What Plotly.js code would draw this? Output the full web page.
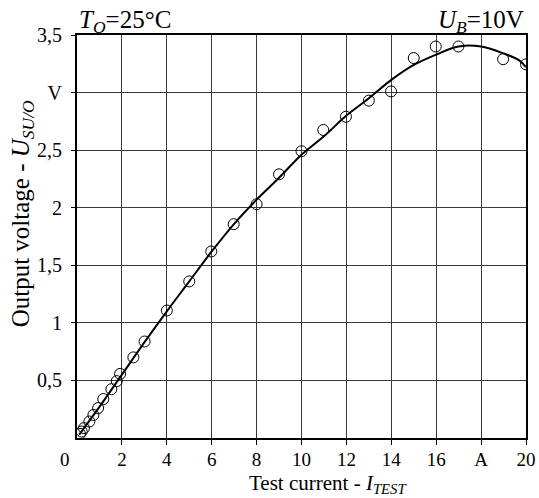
<!DOCTYPE html>
<html><head><meta charset="utf-8">
<script src="https://cdn.plot.ly/plotly-3.0.1.min.js"></script>
<style>html,body{margin:0;padding:0;background:#fff}#chart{width:539px;height:498px}</style>
</head><body><div id="chart"></div>
<script>
// measured points (circles)
var measX = [0.13,0.21,0.31,0.55,0.73,0.94,1.17,1.53,1.77,1.92,2.51,3.01,4.0,5.0,5.98,6.98,8.0,9.0,10.0,10.97,11.98,13.0,13.99,15.0,15.98,16.99,18.98,20.0];
var measY = [0.036,0.056,0.086,0.143,0.20,0.26,0.338,0.424,0.494,0.557,0.70,0.838,1.107,1.36,1.62,1.857,2.03,2.29,2.49,2.675,2.79,2.93,3.01,3.30,3.40,3.40,3.29,3.245];
// fitted curve
var curveX = [0.1,1,2,3,4,5,6,7,8,9,10,11,12,13,14,15,16,17,18,19,19.7,20];
var curveY = [0.03,0.27,0.55,0.83,1.1,1.36,1.62,1.86,2.07,2.26,2.46,2.62,2.80,2.95,3.11,3.24,3.33,3.40,3.40,3.34,3.28,3.22];
// tick labels
var xTickVals = [2,4,6,8,10,12,14,16,18,20];
var xTickText = ["2","4","6","8","10","12","14","16","A","20"];
var yTickVals = [0.5,1,1.5,2,2.5,3,3.5];
var yTickText = ["0,5","1","1,5","2","2,5","V","3,5"];
// texts
var xTitle = "Test current - <i>I<sub>TEST</sub></i>";
var yTitle = "Output voltage - <i>U<sub>SU/O</sub></i>";
var leftNote = "<i>T<sub>O</sub></i>=25°C";
var rightNote = "<i>U<sub>B</sub></i>=10V";

var font = "Liberation Serif, Times New Roman, serif";
var traces = [
  {x: curveX, y: curveY, mode: "lines", line: {color: "#000", width: 2, shape: "spline", smoothing: 1}, hoverinfo: "skip"},
  {x: measX, y: measY, mode: "markers", marker: {symbol: "circle-open", size: 11, color: "#000", line: {width: 1, color: "#000"}}}
];
var layout = {
  width: 539, height: 498, showlegend: false,
  paper_bgcolor: "#fff", plot_bgcolor: "#fff",
  margin: {l: 77, r: 13, t: 35, b: 60},
  font: {family: font, color: "#000", size: 19},
  xaxis: {
    range: [0, 20], tickvals: xTickVals, ticktext: xTickText,
    showgrid: true, gridcolor: "#3a3a3a", gridwidth: 1, zeroline: false,
    showline: true, linecolor: "#000", linewidth: 2, mirror: true,
    ticks: "outside", ticklen: 5, tickcolor: "#000", tickwidth: 1,
    ticklabelstandoff: -2,
    tickfont: {family: font, size: 19, color: "#000"}
  },
  yaxis: {
    range: [0, 3.5], tickvals: yTickVals, ticktext: yTickText,
    showgrid: true, gridcolor: "#3a3a3a", gridwidth: 1, zeroline: false,
    showline: true, linecolor: "#000", linewidth: 2, mirror: true,
    ticks: "outside", ticklen: 4, tickcolor: "#000", tickwidth: 1,
    ticklabelstandoff: 5,
    tickfont: {family: font, size: 20, color: "#000"}
  },
  annotations: [
    {xref: "paper", yref: "paper", x: 0, y: 1, xanchor: "left", yanchor: "bottom", yshift: -4, showarrow: false,
     text: leftNote, font: {family: font, size: 25, color: "#000"}},
    {xref: "paper", yref: "paper", x: 1, y: 1, xanchor: "right", yanchor: "bottom", yshift: -4, showarrow: false,
     text: rightNote, font: {family: font, size: 25, color: "#000"}},
    {xref: "paper", yref: "paper", x: 0, y: 0, xanchor: "center", yanchor: "top", xshift: -12, yshift: -9, showarrow: false,
     text: "0", font: {family: font, size: 19, color: "#000"}},
    {xref: "paper", yref: "paper", x: 0.559, y: 0, xanchor: "center", yanchor: "bottom", yshift: -60, borderpad: 0, showarrow: false,
     text: xTitle, font: {family: font, size: 21, color: "#000"}},
    {xref: "paper", yref: "paper", x: 0, y: 0.555, xanchor: "center", yanchor: "middle", xshift: -55, textangle: -90, showarrow: false,
     text: yTitle, font: {family: font, size: 25, color: "#000"}}
  ]
};
Plotly.newPlot("chart", traces, layout, {displayModeBar: false, staticPlot: true});
</script></body></html>
